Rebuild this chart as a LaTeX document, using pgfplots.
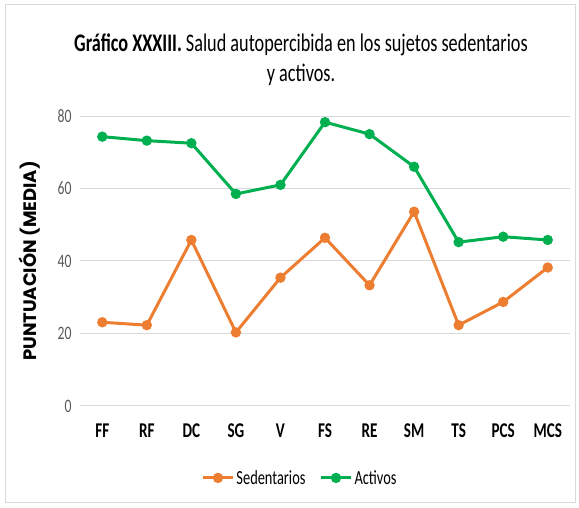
\documentclass[border=0pt]{standalone}
\usepackage{pgfplots}
\pgfplotsset{compat=1.18}
\usepackage{fontspec}
\setmainfont{Carlito}[FakeStretch=0.72]
\newfontfamily\poppins{Poppins}
\definecolor{orangeS}{RGB}{237,125,49}
\definecolor{greenA}{RGB}{0,176,80}
\definecolor{gridc}{RGB}{217,217,217}
\definecolor{tickc}{RGB}{89,89,89}
\begin{document}
\begin{tikzpicture}[x=1pt,y=1pt]
\useasboundingbox (0,0) rectangle (579,508);
\draw[gridc, line width=1pt] (5,5) rectangle (575,503);
\node[align=center, font=\fontsize{25.3}{30}\selectfont] at (301,448) {\textbf{Gráfico XXXIII.} Salud autopercibida en los sujetos sedentarios\\ y activos.};
\begin{axis}[
  at={(80pt,102pt)}, anchor=south west,
  scale only axis, width=490pt, height=290pt,
  xmin=-0.5, xmax=10.5, ymin=0, ymax=80,
  ytick={0,20,40,60,80},
  xtick={0,...,10},
  xticklabels={FF,RF,DC,SG,V,FS,RE,SM,TS,PCS,MCS},
  axis line style={draw=none},
  tick style={draw=none},
  ymajorgrids, grid style={gridc, line width=1pt},
  xticklabel style={font=\fontsize{21}{23}\selectfont\bfseries, text=black, yshift=-14pt},
  yticklabel style={font=\fontsize{19}{21}\selectfont, text=tickc, xshift=-5pt},
  /pgf/number format/assume math mode=true,
  ylabel={PUNTUACIÓN (MEDIA)},
  ylabel style={font=\poppins\fontsize{18}{20}\selectfont\bfseries, at={(axis description cs:-0.102,0.5)}, anchor=center},
  legend style={at={(axis description cs:0.449,-0.248)}, anchor=center, draw=none, legend columns=2, font=\fontsize{20}{22}\selectfont, /tikz/every even column/.append style={column sep=12pt}},
  legend image code/.code={\draw[mark repeat=2,mark phase=2] plot coordinates {(0pt,0pt) (15pt,0pt) (30pt,0pt)};},
  legend cell align=left,
  clip=false,
]
\addplot[orangeS, line width=3pt, mark=*, mark size=3.6pt] coordinates {
(0,23.1) (1,22.3) (2,45.8) (3,20.3) (4,35.4) (5,46.4) (6,33.3) (7,53.6) (8,22.3) (9,28.7) (10,38.2)};
\addlegendentry{Sedentarios}
\addplot[greenA, line width=3pt, mark=*, mark size=3.6pt] coordinates {
(0,74.3) (1,73.2) (2,72.5) (3,58.5) (4,61.0) (5,78.3) (6,75.0) (7,66.0) (8,45.2) (9,46.7) (10,45.8)};
\addlegendentry{Activos}
\end{axis}
\end{tikzpicture}
\end{document}
